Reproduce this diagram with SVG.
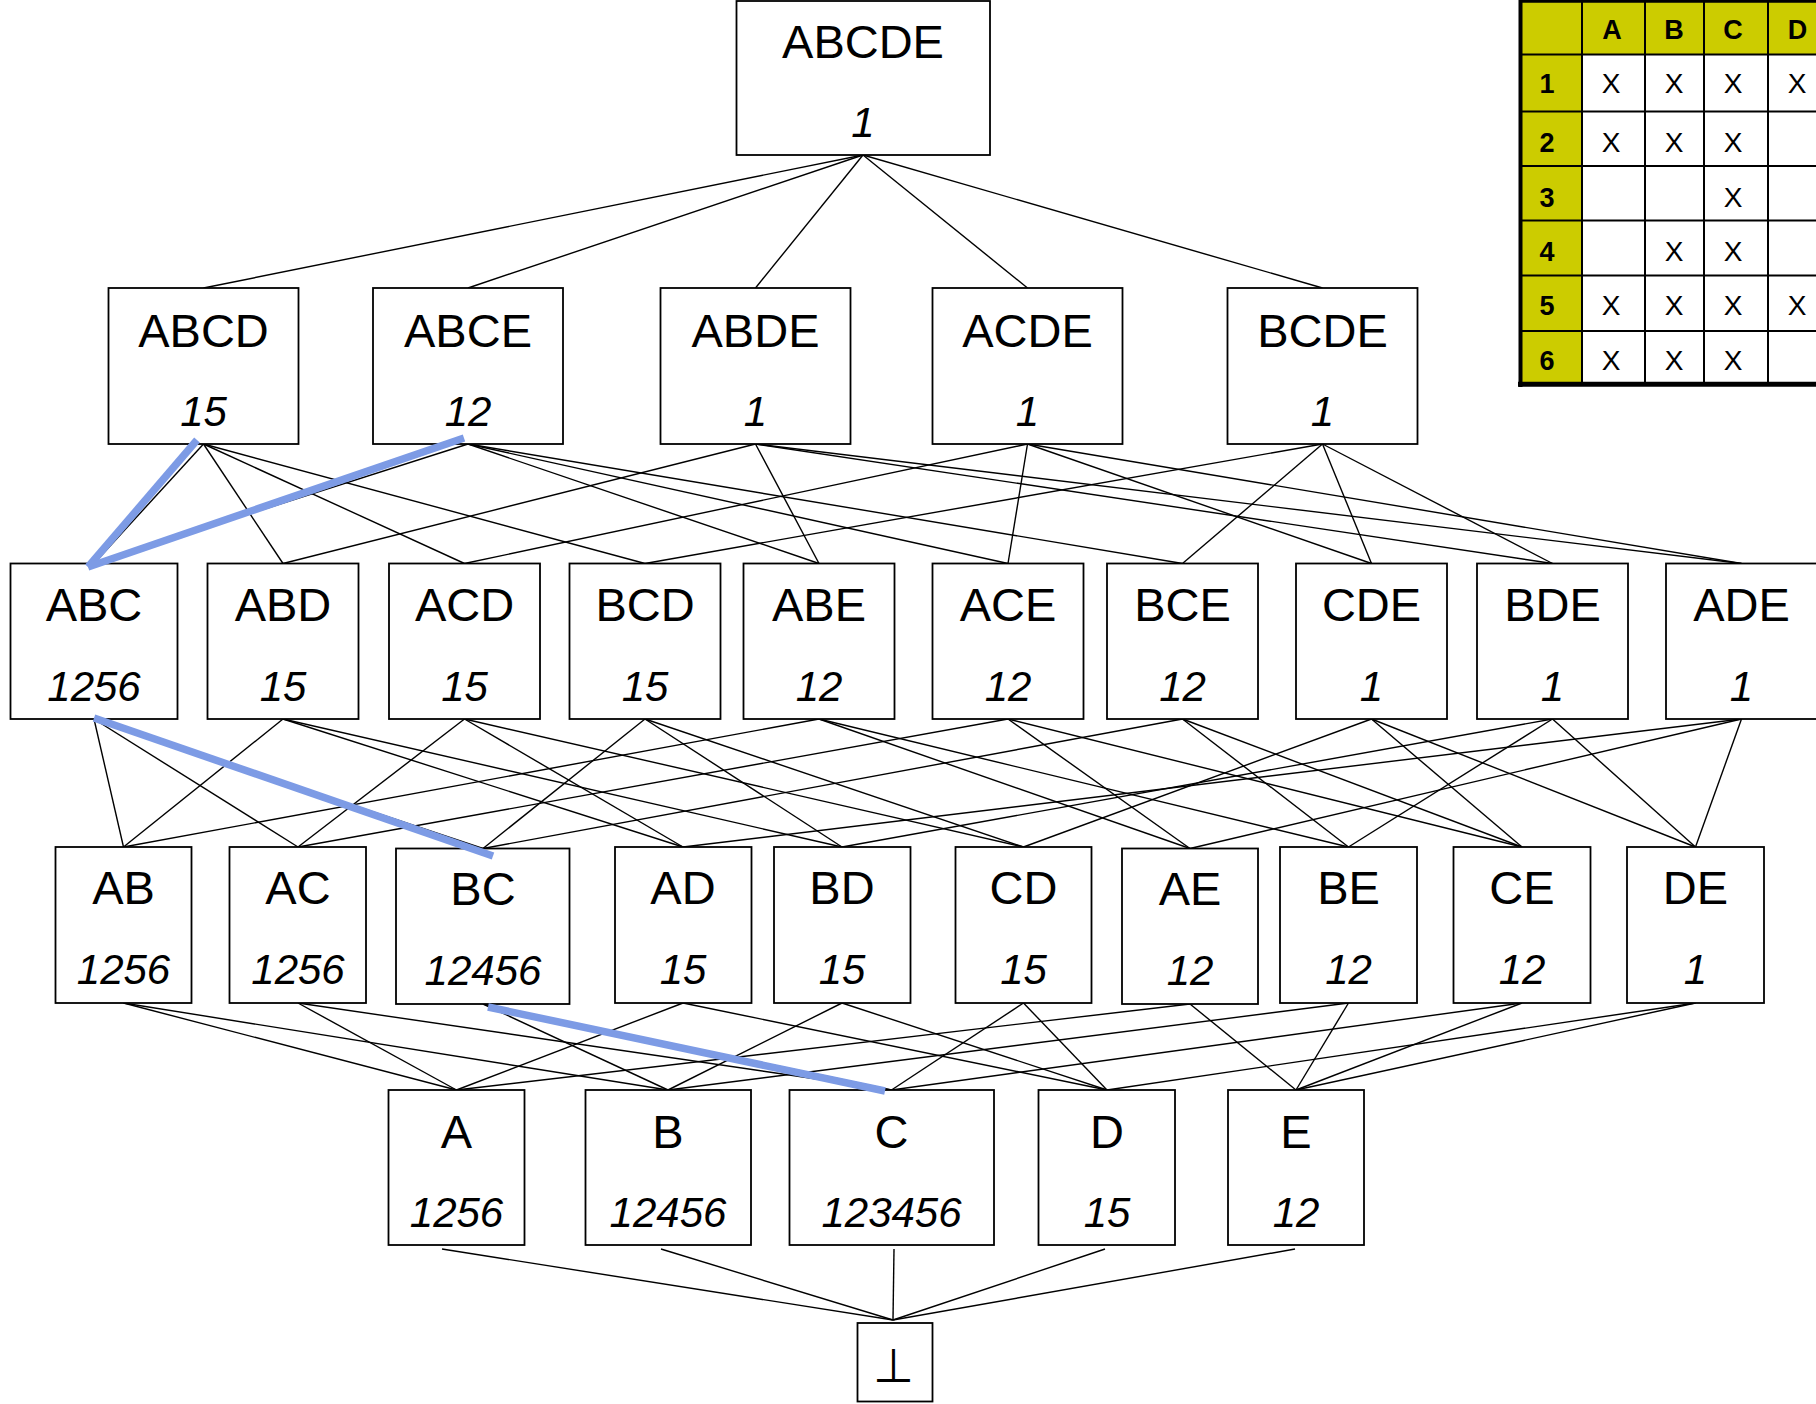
<svg xmlns="http://www.w3.org/2000/svg" width="1816" height="1404" viewBox="0 0 1816 1404">
<style>
.box{fill:#fff;stroke:#000;stroke-width:1.8}
.lbl{font-family:"Liberation Sans",Arial,sans-serif;font-size:47px;text-anchor:middle;fill:#000}
.num{font-family:"Liberation Sans",Arial,sans-serif;font-size:42px;font-style:italic;text-anchor:middle;fill:#000}
.edge{stroke:#000;stroke-width:1.4;fill:none}
.hl{stroke:#7D9BE5;stroke-width:7.5;fill:none}
.th{font-family:"Liberation Sans",Arial,sans-serif;font-size:27px;font-weight:bold;text-anchor:middle;fill:#000}
.tx{font-family:"Liberation Sans",Arial,sans-serif;font-size:28px;text-anchor:middle;fill:#000}
.grid{stroke:#000;stroke-width:2}
</style>
<rect width="1816" height="1404" fill="#fff"/>
<g id="connectors">
<line class="edge" x1="863" y1="155" x2="203.5" y2="288"/>
<line class="edge" x1="863" y1="155" x2="468" y2="288"/>
<line class="edge" x1="863" y1="155" x2="755.5" y2="288"/>
<line class="edge" x1="863" y1="155" x2="1027.5" y2="288"/>
<line class="edge" x1="863" y1="155" x2="1322.5" y2="288"/>
<line class="edge" x1="203.5" y1="444" x2="94" y2="563.5"/>
<line class="edge" x1="203.5" y1="444" x2="283" y2="563.5"/>
<line class="edge" x1="203.5" y1="444" x2="464.5" y2="563.5"/>
<line class="edge" x1="203.5" y1="444" x2="645" y2="563.5"/>
<line class="edge" x1="468" y1="444" x2="94" y2="563.5"/>
<line class="edge" x1="468" y1="444" x2="819" y2="563.5"/>
<line class="edge" x1="468" y1="444" x2="1008" y2="563.5"/>
<line class="edge" x1="468" y1="444" x2="1182.5" y2="563.5"/>
<line class="edge" x1="755.5" y1="444" x2="283" y2="563.5"/>
<line class="edge" x1="755.5" y1="444" x2="819" y2="563.5"/>
<line class="edge" x1="755.5" y1="444" x2="1741.5" y2="563.5"/>
<line class="edge" x1="755.5" y1="444" x2="1552.5" y2="563.5"/>
<line class="edge" x1="1027.5" y1="444" x2="464.5" y2="563.5"/>
<line class="edge" x1="1027.5" y1="444" x2="1008" y2="563.5"/>
<line class="edge" x1="1027.5" y1="444" x2="1741.5" y2="563.5"/>
<line class="edge" x1="1027.5" y1="444" x2="1371.5" y2="563.5"/>
<line class="edge" x1="1322.5" y1="444" x2="645" y2="563.5"/>
<line class="edge" x1="1322.5" y1="444" x2="1182.5" y2="563.5"/>
<line class="edge" x1="1322.5" y1="444" x2="1552.5" y2="563.5"/>
<line class="edge" x1="1322.5" y1="444" x2="1371.5" y2="563.5"/>
<line class="edge" x1="94" y1="719" x2="123.5" y2="847"/>
<line class="edge" x1="94" y1="719" x2="298" y2="847"/>
<line class="edge" x1="94" y1="719" x2="483" y2="848.5"/>
<line class="edge" x1="283" y1="719" x2="123.5" y2="847"/>
<line class="edge" x1="283" y1="719" x2="683" y2="847"/>
<line class="edge" x1="283" y1="719" x2="842" y2="847"/>
<line class="edge" x1="464.5" y1="719" x2="298" y2="847"/>
<line class="edge" x1="464.5" y1="719" x2="683" y2="847"/>
<line class="edge" x1="464.5" y1="719" x2="1023.5" y2="847"/>
<line class="edge" x1="645" y1="719" x2="483" y2="848.5"/>
<line class="edge" x1="645" y1="719" x2="842" y2="847"/>
<line class="edge" x1="645" y1="719" x2="1023.5" y2="847"/>
<line class="edge" x1="819" y1="719" x2="123.5" y2="847"/>
<line class="edge" x1="819" y1="719" x2="1190" y2="848.5"/>
<line class="edge" x1="819" y1="719" x2="1348.5" y2="847"/>
<line class="edge" x1="1008" y1="719" x2="298" y2="847"/>
<line class="edge" x1="1008" y1="719" x2="1190" y2="848.5"/>
<line class="edge" x1="1008" y1="719" x2="1522" y2="847"/>
<line class="edge" x1="1182.5" y1="719" x2="483" y2="848.5"/>
<line class="edge" x1="1182.5" y1="719" x2="1348.5" y2="847"/>
<line class="edge" x1="1182.5" y1="719" x2="1522" y2="847"/>
<line class="edge" x1="1371.5" y1="719" x2="1023.5" y2="847"/>
<line class="edge" x1="1371.5" y1="719" x2="1522" y2="847"/>
<line class="edge" x1="1371.5" y1="719" x2="1695.5" y2="847"/>
<line class="edge" x1="1552.5" y1="719" x2="842" y2="847"/>
<line class="edge" x1="1552.5" y1="719" x2="1348.5" y2="847"/>
<line class="edge" x1="1552.5" y1="719" x2="1695.5" y2="847"/>
<line class="edge" x1="1741.5" y1="719" x2="683" y2="847"/>
<line class="edge" x1="1741.5" y1="719" x2="1190" y2="848.5"/>
<line class="edge" x1="1741.5" y1="719" x2="1695.5" y2="847"/>
<line class="edge" x1="123.5" y1="1003" x2="456.5" y2="1090"/>
<line class="edge" x1="123.5" y1="1003" x2="668" y2="1090"/>
<line class="edge" x1="298" y1="1003" x2="456.5" y2="1090"/>
<line class="edge" x1="298" y1="1003" x2="891.5" y2="1090"/>
<line class="edge" x1="483" y1="1004" x2="668" y2="1090"/>
<line class="edge" x1="483" y1="1004" x2="891.5" y2="1090"/>
<line class="edge" x1="683" y1="1003" x2="456.5" y2="1090"/>
<line class="edge" x1="683" y1="1003" x2="1107" y2="1090"/>
<line class="edge" x1="842" y1="1003" x2="668" y2="1090"/>
<line class="edge" x1="842" y1="1003" x2="1107" y2="1090"/>
<line class="edge" x1="1023.5" y1="1003" x2="891.5" y2="1090"/>
<line class="edge" x1="1023.5" y1="1003" x2="1107" y2="1090"/>
<line class="edge" x1="1190" y1="1004" x2="456.5" y2="1090"/>
<line class="edge" x1="1190" y1="1004" x2="1296" y2="1090"/>
<line class="edge" x1="1348.5" y1="1003" x2="668" y2="1090"/>
<line class="edge" x1="1348.5" y1="1003" x2="1296" y2="1090"/>
<line class="edge" x1="1522" y1="1003" x2="891.5" y2="1090"/>
<line class="edge" x1="1522" y1="1003" x2="1296" y2="1090"/>
<line class="edge" x1="1695.5" y1="1003" x2="1107" y2="1090"/>
<line class="edge" x1="1695.5" y1="1003" x2="1296" y2="1090"/>
<line class="edge" x1="442" y1="1249" x2="893" y2="1320"/>
<line class="edge" x1="661" y1="1249" x2="893" y2="1320"/>
<line class="edge" x1="894" y1="1249" x2="893" y2="1320"/>
<line class="edge" x1="1105" y1="1249" x2="893" y2="1320"/>
<line class="edge" x1="1295" y1="1249" x2="893" y2="1320"/>
</g>
<g id="nodes">
<g id="n-ABCDE"><rect class="box" x="736.5" y="1" width="253.5" height="154"/><text class="lbl" x="863" y="58">ABCDE</text><text class="num" x="863" y="137">1</text></g>
<g id="n-ABCD"><rect class="box" x="108.5" y="288" width="190" height="156"/><text class="lbl" x="203.5" y="347">ABCD</text><text class="num" x="203.5" y="426">15</text></g>
<g id="n-ABCE"><rect class="box" x="373" y="288" width="190" height="156"/><text class="lbl" x="468" y="347">ABCE</text><text class="num" x="468" y="426">12</text></g>
<g id="n-ABDE"><rect class="box" x="660.5" y="288" width="190" height="156"/><text class="lbl" x="755.5" y="347">ABDE</text><text class="num" x="755.5" y="426">1</text></g>
<g id="n-ACDE"><rect class="box" x="932.5" y="288" width="190" height="156"/><text class="lbl" x="1027.5" y="347">ACDE</text><text class="num" x="1027.5" y="426">1</text></g>
<g id="n-BCDE"><rect class="box" x="1227.5" y="288" width="190" height="156"/><text class="lbl" x="1322.5" y="347">BCDE</text><text class="num" x="1322.5" y="426">1</text></g>

<g id="n-ABC"><rect class="box" x="10.5" y="563.5" width="167" height="155.5"/><text class="lbl" x="94" y="621">ABC</text><text class="num" x="94" y="701">1256</text></g>
<g id="n-ABD"><rect class="box" x="207.5" y="563.5" width="151" height="155.5"/><text class="lbl" x="283" y="621">ABD</text><text class="num" x="283" y="701">15</text></g>
<g id="n-ACD"><rect class="box" x="389" y="563.5" width="151" height="155.5"/><text class="lbl" x="464.5" y="621">ACD</text><text class="num" x="464.5" y="701">15</text></g>
<g id="n-BCD"><rect class="box" x="569.5" y="563.5" width="151" height="155.5"/><text class="lbl" x="645" y="621">BCD</text><text class="num" x="645" y="701">15</text></g>
<g id="n-ABE"><rect class="box" x="743.5" y="563.5" width="151" height="155.5"/><text class="lbl" x="819" y="621">ABE</text><text class="num" x="819" y="701">12</text></g>
<g id="n-ACE"><rect class="box" x="932.5" y="563.5" width="151" height="155.5"/><text class="lbl" x="1008" y="621">ACE</text><text class="num" x="1008" y="701">12</text></g>
<g id="n-BCE"><rect class="box" x="1107" y="563.5" width="151" height="155.5"/><text class="lbl" x="1182.5" y="621">BCE</text><text class="num" x="1182.5" y="701">12</text></g>
<g id="n-CDE"><rect class="box" x="1296" y="563.5" width="151" height="155.5"/><text class="lbl" x="1371.5" y="621">CDE</text><text class="num" x="1371.5" y="701">1</text></g>
<g id="n-BDE"><rect class="box" x="1477" y="563.5" width="151" height="155.5"/><text class="lbl" x="1552.5" y="621">BDE</text><text class="num" x="1552.5" y="701">1</text></g>
<g id="n-ADE"><rect class="box" x="1666" y="563.5" width="151" height="155.5"/><text class="lbl" x="1741.5" y="621">ADE</text><text class="num" x="1741.5" y="701">1</text></g>

<g id="n-AB"><rect class="box" x="55.5" y="847" width="136" height="156"/><text class="lbl" x="123.5" y="904">AB</text><text class="num" x="123.5" y="984">1256</text></g>
<g id="n-AC"><rect class="box" x="229.5" y="847" width="136.5" height="156"/><text class="lbl" x="298" y="904">AC</text><text class="num" x="298" y="984">1256</text></g>
<g id="n-BC"><rect class="box" x="396" y="848.5" width="173.5" height="155.5"/><text class="lbl" x="483" y="905">BC</text><text class="num" x="483" y="985">12456</text></g>
<g id="n-AD"><rect class="box" x="615" y="847" width="136.5" height="156"/><text class="lbl" x="683" y="904">AD</text><text class="num" x="683" y="984">15</text></g>
<g id="n-BD"><rect class="box" x="774" y="847" width="136.5" height="156"/><text class="lbl" x="842" y="904">BD</text><text class="num" x="842" y="984">15</text></g>
<g id="n-CD"><rect class="box" x="955.5" y="847" width="136" height="156"/><text class="lbl" x="1023.5" y="904">CD</text><text class="num" x="1023.5" y="984">15</text></g>
<g id="n-AE"><rect class="box" x="1122" y="848.5" width="136" height="155.5"/><text class="lbl" x="1190" y="905">AE</text><text class="num" x="1190" y="985">12</text></g>
<g id="n-BE"><rect class="box" x="1280" y="847" width="137" height="156"/><text class="lbl" x="1348.5" y="904">BE</text><text class="num" x="1348.5" y="984">12</text></g>
<g id="n-CE"><rect class="box" x="1453.5" y="847" width="137" height="156"/><text class="lbl" x="1522" y="904">CE</text><text class="num" x="1522" y="984">12</text></g>
<g id="n-DE"><rect class="box" x="1627" y="847" width="137" height="156"/><text class="lbl" x="1695.5" y="904">DE</text><text class="num" x="1695.5" y="984">1</text></g>

<g id="n-A"><rect class="box" x="388.5" y="1090" width="136" height="155"/><text class="lbl" x="456.5" y="1148">A</text><text class="num" x="456.5" y="1227">1256</text></g>
<g id="n-B"><rect class="box" x="585.5" y="1090" width="165.5" height="155"/><text class="lbl" x="668" y="1148">B</text><text class="num" x="668" y="1227">12456</text></g>
<g id="n-C"><rect class="box" x="789.5" y="1090" width="204.5" height="155"/><text class="lbl" x="891.5" y="1148">C</text><text class="num" x="891.5" y="1227">123456</text></g>
<g id="n-D"><rect class="box" x="1038.5" y="1090" width="136.5" height="155"/><text class="lbl" x="1107" y="1148">D</text><text class="num" x="1107" y="1227">15</text></g>
<g id="n-E"><rect class="box" x="1228" y="1090" width="136" height="155"/><text class="lbl" x="1296" y="1148">E</text><text class="num" x="1296" y="1227">12</text></g>

<g id="n-bottom"><rect class="box" x="857.5" y="1323" width="75" height="78.5"/><text class="lbl" x="893" y="1382">⊥</text></g>
</g>
<g id="highlight">
<line class="hl" x1="197" y1="440" x2="88" y2="567"/>
<line class="hl" x1="464" y1="438" x2="88" y2="567"/>
<line class="hl" x1="94" y1="718" x2="493" y2="856"/>
<line class="hl" x1="488" y1="1007" x2="885" y2="1091"/>
</g>
<g id="table">
<rect x="1521" y="1" width="300" height="53.5" fill="#CCCC00"/>
<rect x="1521" y="54.5" width="61" height="329" fill="#CCCC00"/>
<rect x="1582" y="54.5" width="240" height="329" fill="#fff"/>
<line class="grid" x1="1582" y1="0" x2="1582" y2="384"/>
<line class="grid" x1="1645" y1="0" x2="1645" y2="384"/>
<line class="grid" x1="1704" y1="0" x2="1704" y2="384"/>
<line class="grid" x1="1768" y1="0" x2="1768" y2="384"/>
<line class="grid" x1="1519" y1="54.5" x2="1816" y2="54.5"/>
<line class="grid" x1="1519" y1="111.5" x2="1816" y2="111.5"/>
<line class="grid" x1="1519" y1="166" x2="1816" y2="166"/>
<line class="grid" x1="1519" y1="220.5" x2="1816" y2="220.5"/>
<line class="grid" x1="1519" y1="275.5" x2="1816" y2="275.5"/>
<line class="grid" x1="1519" y1="331" x2="1816" y2="331"/>
<line stroke="#000" stroke-width="2.7" x1="1519" y1="1.3" x2="1816" y2="1.3"/>
<line stroke="#000" stroke-width="4" x1="1520.5" y1="0" x2="1520.5" y2="387"/>
<line stroke="#000" stroke-width="5" x1="1518" y1="384.2" x2="1816" y2="384.2"/>
<text class="th" x="1612" y="39">A</text>
<text class="th" x="1674" y="39">B</text>
<text class="th" x="1733" y="39">C</text>
<text class="th" x="1797.5" y="39">D</text>
<text class="th" x="1547" y="93">1</text>
<text class="th" x="1547" y="151.5">2</text>
<text class="th" x="1547" y="206.5">3</text>
<text class="th" x="1547" y="260.5">4</text>
<text class="th" x="1547" y="315">5</text>
<text class="th" x="1547" y="370">6</text>
<text class="tx" x="1611" y="93">X</text><text class="tx" x="1674" y="93">X</text><text class="tx" x="1733" y="93">X</text><text class="tx" x="1797" y="93">X</text>
<text class="tx" x="1611" y="151.5">X</text><text class="tx" x="1674" y="151.5">X</text><text class="tx" x="1733" y="151.5">X</text>
<text class="tx" x="1733" y="206.5">X</text>
<text class="tx" x="1674" y="260.5">X</text><text class="tx" x="1733" y="260.5">X</text>
<text class="tx" x="1611" y="315">X</text><text class="tx" x="1674" y="315">X</text><text class="tx" x="1733" y="315">X</text><text class="tx" x="1797" y="315">X</text>
<text class="tx" x="1611" y="370">X</text><text class="tx" x="1674" y="370">X</text><text class="tx" x="1733" y="370">X</text>
</g>
</svg>
